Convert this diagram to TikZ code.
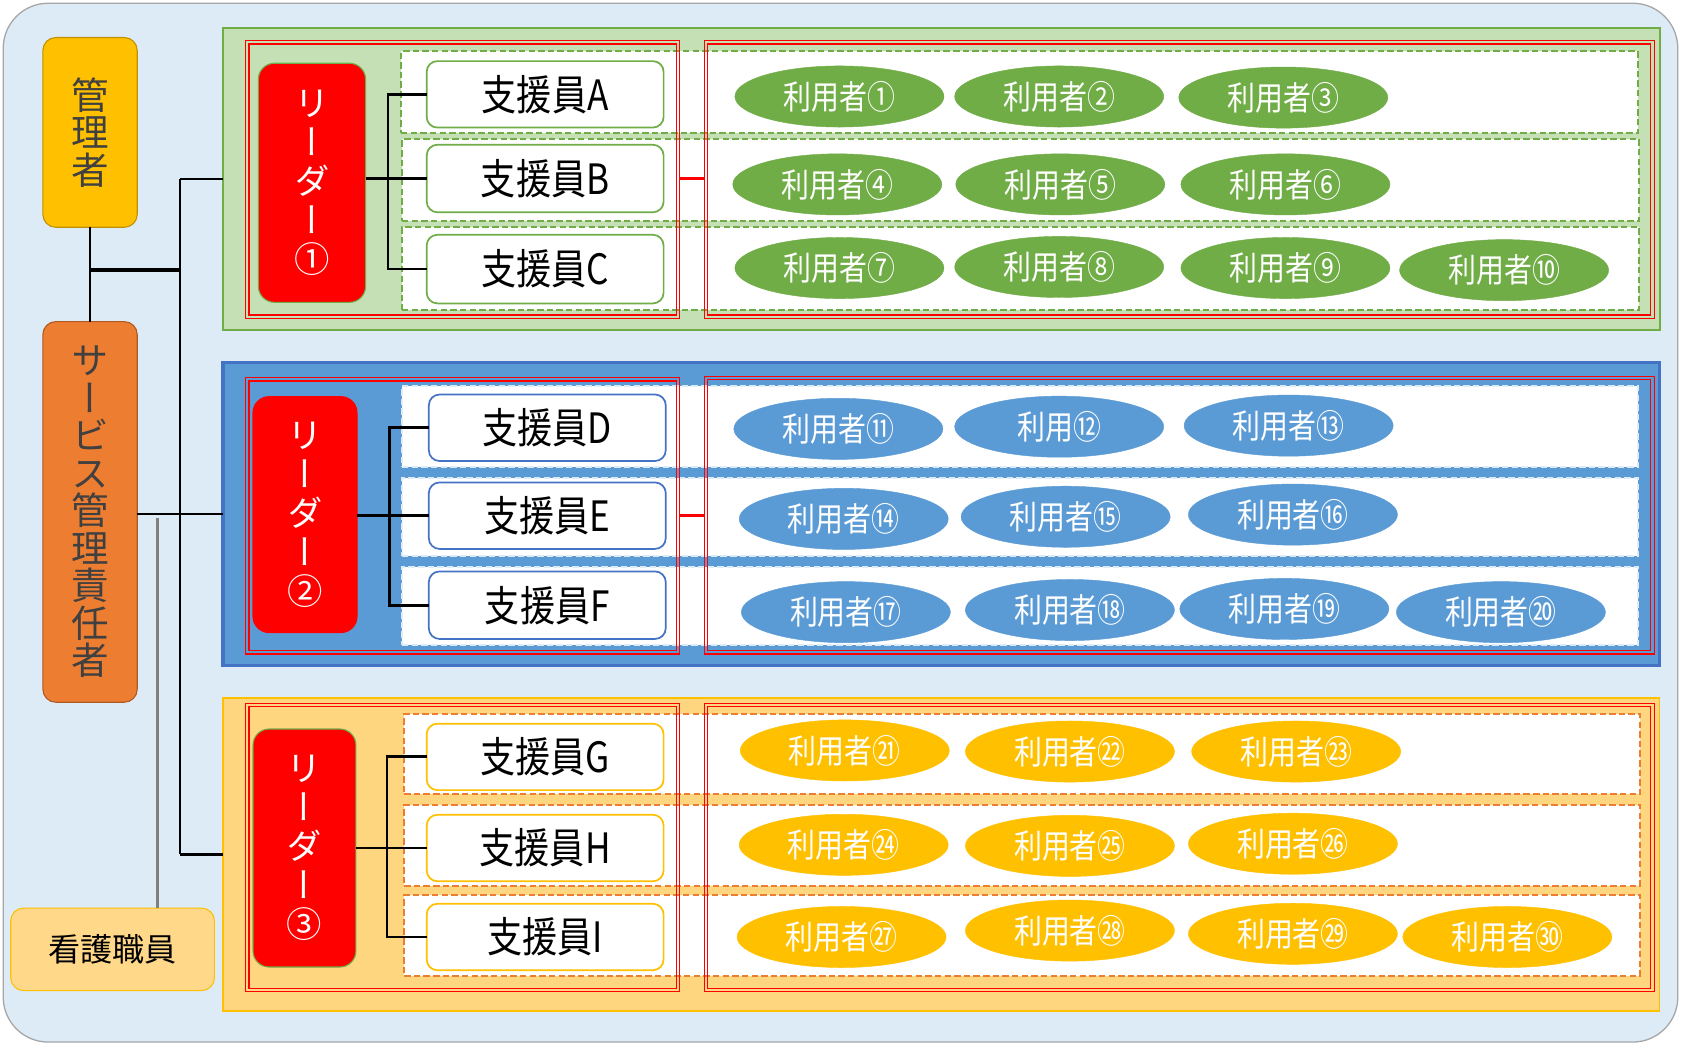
\documentclass[tikz,border=0pt]{standalone}
\usepackage{fontspec}
\usepackage{graphicx}
\setmainfont{Noto Sans CJK JP}
\newfontfamily\vertfont[RawFeature=+vert]{Noto Sans CJK JP}
\newfontfamily\narrowfont[FakeStretch=0.84]{Noto Sans CJK JP}
\usetikzlibrary{shapes.geometric}
\definecolor{bgblue}{HTML}{DDEBF7}
\definecolor{bgline}{HTML}{A6A6A6}
\definecolor{kanriY}{HTML}{FFC000}
\definecolor{kanriYd}{HTML}{BF9000}
\definecolor{sabiO}{HTML}{ED7D31}
\definecolor{sabiOd}{HTML}{AE5A21}
\definecolor{txtgray}{HTML}{404040}
\definecolor{gfill}{HTML}{C5E0B4}
\definecolor{gline}{HTML}{70AD47}
\definecolor{bfill}{HTML}{5B9BD5}
\definecolor{bline}{HTML}{4472C4}
\definecolor{yfill}{HTML}{FFD680}
\definecolor{yline}{HTML}{FFC000}
\definecolor{oline}{HTML}{ED7D31}
\definecolor{kfill}{HTML}{FFD88A}
\definecolor{leadred}{HTML}{FF0000}
\definecolor{gcon}{HTML}{7F7F7F}
% box from corners: [style]{name}{x1}{y1}{x2}{y2}{text}
\newcommand\rbox[7][]{%
  \node[box, #1, minimum width={(#5-#3)*1pt}, minimum height={(#6-#4)*1pt}] (#2) at ({(#3+#5)/2},{(#4+#6)/2}) {#7};}
\newcommand\redframe[5]{%
  \rbox[redfr]{#1}{#2}{#3}{#4}{#5}{}
  \draw[redline] (#2+3.2,#3+3.2) rectangle (#4-3.2,#5-3.2);}
\begin{document}
\begin{tikzpicture}[x=1pt,y=-1pt,
  box/.style={rectangle, inner sep=0pt, outer sep=0pt},
  vtext/.style={align=center, font=\vertfont\fontsize{35}{35}\selectfont},
  kanri/.style={vtext, rounded corners=12pt, fill=kanriY, draw=kanriYd, line width=1pt, text=txtgray},
  sabi/.style={vtext, rounded corners=12pt, fill=sabiO, draw=sabiOd, line width=1pt, text=txtgray},
  kango/.style={rounded corners=12pt, fill=kfill, draw=yline, line width=1pt, font=\fontsize{30}{30}\selectfont},
  grp/.style={fill=#1},
  rowbox/.style={fill=white, draw=#1, line width=1.8pt, dash pattern=on 6pt off 3pt},
  leader/.style={align=center, rounded corners=15pt, fill=leadred, draw=#1, line width=1pt, text=white, font=\vertfont\fontsize{33}{36.5}\selectfont},
  staff/.style={rounded corners=10pt, fill=white, draw=#1, line width=1.6pt, font=\narrowfont\fontsize{39}{39}\selectfont},
  uell/.style={ellipse, fill=#1, draw=#1, minimum width=195pt, minimum height=57pt, inner sep=0pt, text=white, font=\narrowfont\fontsize{31}{31}\selectfont},
  redfr/.style={draw=red, line width=1.3pt},
  redline/.style={draw=red, line width=1.3pt},
  conn/.style={draw=black, line width=2.2pt},
  tree/.style={draw=black, line width=2.6pt},
  redconn/.style={draw=red, line width=3pt},
  grayconn/.style={draw=gcon, line width=3pt}
]
\useasboundingbox (0,0) rectangle (1568,975);
% background
\draw[fill=bgblue, draw=bgline, line width=1.2pt, rounded corners=42pt] (3,3) rectangle (1565,972);

% left column
\rbox[kanri]{kanri}{40}{35}{128}{212}{管\\理\\者}
\rbox[sabi]{sabi}{40}{300}{128}{655}{サ\\ー\\ビ\\ス\\管\\理\\責\\任\\者}
\rbox[kango]{kango}{10}{847}{200}{924}{看護職員}

% groups
\rbox[grp=gfill, draw=gline, line width=2pt]{g1}{208}{26}{1548}{308}{}
\rbox[grp=bfill, draw=bline, line width=3pt]{g2}{208}{338}{1548}{621}{}
\rbox[grp=yfill, draw=yline, line width=1.2pt]{g3}{208}{651}{1548}{943}{}

% rows
\rbox[rowbox=gline]{ra1}{374}{48}{1528}{124}{}
\rbox[rowbox=gline]{ra2}{375}{130}{1529}{206}{}
\rbox[rowbox=gline]{ra3}{375}{212}{1529}{289}{}
\rbox[rowbox=bgblue]{rb1}{375}{360}{1528}{436}{}
\rbox[rowbox=bgblue]{rb2}{375}{446}{1528}{519}{}
\rbox[rowbox=bgblue]{rb3}{375}{529}{1528}{602}{}
\rbox[rowbox=oline]{rc1}{377}{666}{1530}{741}{}
\rbox[rowbox=oline]{rc2}{377}{751}{1530}{826}{}
\rbox[rowbox=oline]{rc3}{377}{835}{1530}{910}{}

% leaders
\rbox[leader=gline]{ld1}{241}{59}{341}{282}{リ\\ー\\ダ\\ー\\①}
\rbox[leader=leadred]{ld2}{236}{370}{333}{590}{リ\\ー\\ダ\\ー\\②}
\rbox[leader=gline]{ld3}{236}{680}{332}{902}{リ\\ー\\ダ\\ー\\③}

% staff
\rbox[staff=gline]{sA}{398}{57}{619}{119}{支援員A}
\rbox[staff=gline]{sB}{398}{135}{619}{198}{支援員B}
\rbox[staff=gline]{sC}{398}{219}{619}{283}{支援員C}
\rbox[staff=bline]{sD}{400}{368}{621}{430}{支援員D}
\rbox[staff=bline]{sE}{400}{450}{621}{512}{支援員E}
\rbox[staff=bline]{sF}{400}{533}{621}{596}{支援員F}
\rbox[staff=yline]{sG}{398}{675}{619}{737}{支援員G}
\rbox[staff=yline]{sH}{398}{760}{619}{822}{支援員H}
\rbox[staff=yline]{sI}{398}{843}{619}{905}{支援員I}

% users - green
\node[uell=gline] (u1) at (783,90) {利用者①};
\node[uell=gline] (u2) at (988,90) {利用者②};
\node[uell=gline] (u3) at (1197,91) {利用者③};
\node[uell=gline] (u4) at (781,172) {利用者④};
\node[uell=gline] (u5) at (989,172) {利用者⑤};
\node[uell=gline] (u6) at (1199,172) {利用者⑥};
\node[uell=gline] (u7) at (783,250) {利用者⑦};
\node[uell=gline] (u8) at (988,249) {利用者⑧};
\node[uell=gline] (u9) at (1199,250) {利用者⑨};
\node[uell=gline] (u10) at (1403,252) {利用者⑩};
% users - blue
\node[uell=bfill] (u11) at (782,400) {利用者⑪};
\node[uell=bfill] (u12) at (988,398) {利用⑫};
\node[uell=bfill] (u13) at (1202,397) {利用者⑬};
\node[uell=bfill] (u14) at (787,484) {利用者⑭};
\node[uell=bfill] (u15) at (994,482) {利用者⑮};
\node[uell=bfill] (u16) at (1206,480) {利用者⑯};
\node[uell=bfill] (u17) at (789,571) {利用者⑰};
\node[uell=bfill] (u18) at (998,569) {利用者⑱};
\node[uell=bfill] (u19) at (1198,568) {利用者⑲};
\node[uell=bfill] (u20) at (1400,571) {利用者⑳};
% users - yellow
\node[uell=yline] (u21) at (788,700) {利用者㉑};
\node[uell=yline] (u22) at (998,701) {利用者㉒};
\node[uell=yline] (u23) at (1209,701) {利用者㉓};
\node[uell=yline] (u24) at (787,788) {利用者㉔};
\node[uell=yline] (u25) at (998,789) {利用者㉕};
\node[uell=yline] (u26) at (1206,787) {利用者㉖};
\node[uell=yline] (u27) at (785,874) {利用者㉗};
\node[uell=yline] (u28) at (998,868) {利用者㉘};
\node[uell=yline] (u29) at (1206,871) {利用者㉙};
\node[uell=yline] (u30) at (1406,874) {利用者㉚};

% red frames
\redframe{L1}{229}{38}{634}{297}
\redframe{R1}{657}{38}{1543}{297}
\redframe{L2}{229}{352}{634}{610}
\redframe{R2}{657}{351}{1543}{610}
\redframe{L3}{229}{656}{634}{925}
\redframe{R3}{657}{656}{1543}{925}

% red links between frames
\draw[redconn] (L1.east |- sB.west) -- (R1.west |- sB.west);
\draw[redconn] (L2.east |- sE.west) -- (R2.west |- sE.west);

% trees inside groups
\coordinate (t1) at (362,0);
\coordinate (t2) at (363,0);
\coordinate (t3) at (361,0);
\draw[tree] (sA.west) -- (sA.west -| t1) -- (sC.west -| t1) -- (sC.west);
\draw[tree] (ld1.east |- sB.west) -- (sB.west);
\draw[tree] (sD.west) -- (sD.west -| t2) -- (sF.west -| t2) -- (sF.west);
\draw[tree] (ld2.east |- sE.west) -- (sE.west);
\draw[tree] (sG.west) -- (sG.west -| t3) -- (sI.west -| t3) -- (sI.west);
\draw[tree] (ld3.east |- sH.west) -- (sH.west);

% main connectors
\coordinate (trunk) at (168,0);
\coordinate (j1) at (85,252);
\coordinate (gtop) at (147,483);
\draw[conn] (kanri.south) -- (sabi.north);
\draw[conn, line width=3.5pt] (j1) -- (j1 -| trunk);
\draw[conn] (trunk |- g1.west) -- (trunk |- g3.west);
\draw[conn] (trunk |- g1.west) -- (g1.west);
\draw[conn] (sabi.east |- g2.west) -- (g2.west);
\draw[conn] (trunk |- g3.west) -- (g3.west);
\draw[grayconn] (gtop) -- (gtop |- kango.north);
\end{tikzpicture}
\end{document}
